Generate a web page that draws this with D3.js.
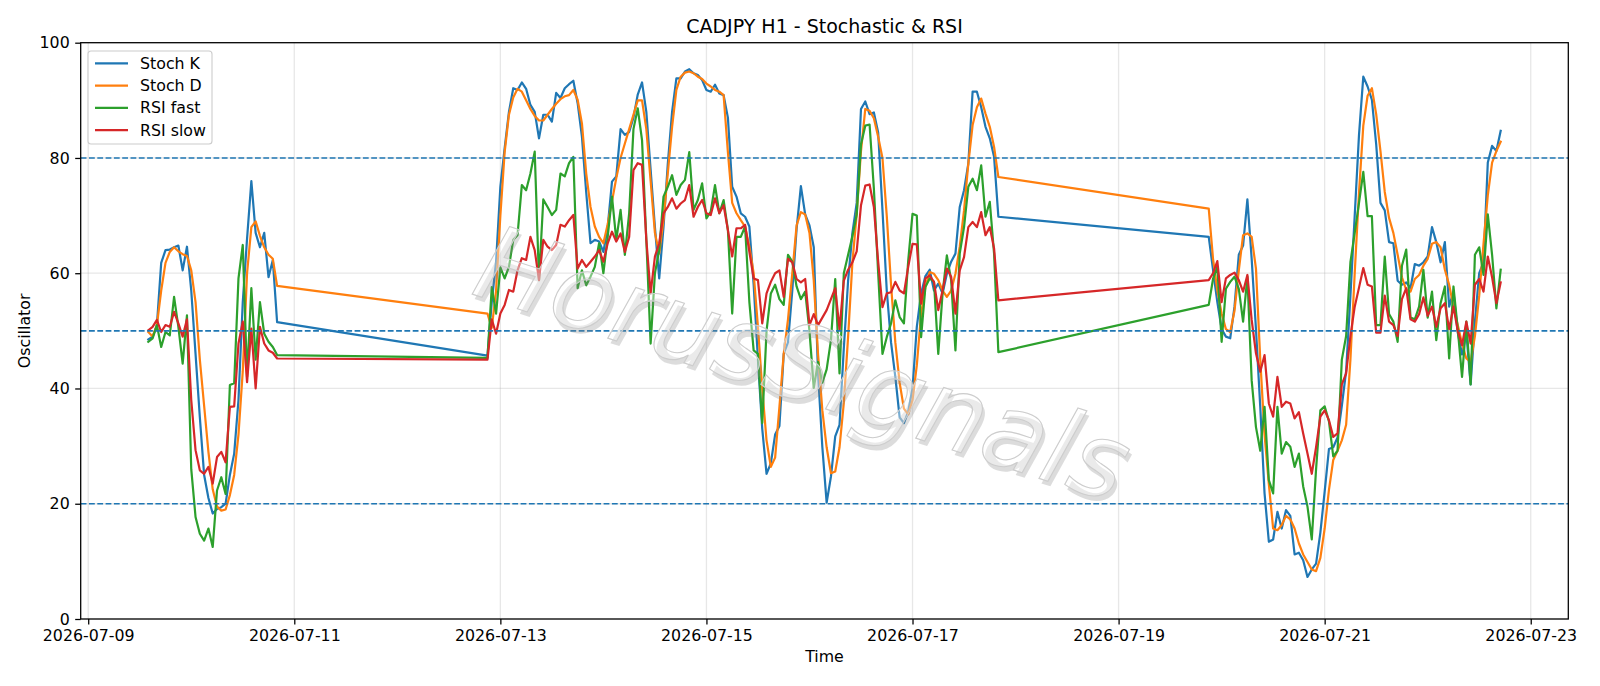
<!DOCTYPE html>
<html lang="en">
<head>
  <meta charset="UTF-8">
  <title>CADJPY H1 - Stochastic & RSI</title>
  <script src="https://d3js.org/d3.v7.min.js"></script>
  <style>
    html, body {
      margin: 0;
      padding: 0;
      background: #fff;
    }
    svg {
      display: block;
      font-family: "DejaVu Sans", sans-serif;
    }
    .tick text {
      font-size: 15.8px;
      fill: #000;
    }
  </style>
</head>
<body>
  <div id="chart"></div>
  <script>
    // hourly bars: three trading sessions, weekends skipped
    const sessionStarts = ["2026-07-09T14:00:00Z", "2026-07-12T21:00:00Z", "2026-07-19T21:00:00Z"];
    const sessionBars = [31, 120, 69];

    const stochK = [
      48.5, 49, 51, 61.8, 64, 64.1, 64.5, 64.8, 60.5, 64.6,
      57, 46, 35, 25, 21, 18.3, 19.1, 19.4, 20, 25,
      28.7, 38, 55, 66, 76, 67, 64.5, 67, 59.3, 62.3,
      51.5,
      45.7, 55, 62, 75, 81.7, 88, 92.1, 91.8, 93.1, 92,
      89.2, 88, 83.4, 87.5, 87.5, 86.3, 91.3, 90.4, 92.1, 92.8,
      93.4, 89.5, 83.7, 74, 65.2, 65.8, 65.5, 63.7, 68, 75.9,
      76.8, 85, 84, 84.5, 87, 91, 93.1, 88, 78, 68,
      59.1, 68, 79, 88, 93.8, 93.8, 95, 95.4, 94.7, 94.4,
      93.5, 91.8, 91.5, 92.7, 91.2, 90.9, 87, 75, 73.3, 70.4,
      69.8, 68.1, 58, 45, 33, 25.2, 27, 32, 33.5, 46,
      48, 57, 67.7, 75.1, 70.2, 68.3, 64.5, 42.6, 29.8, 20.2,
      24.7, 31.7, 33.7, 47, 58.7, 67, 72.2, 88.5, 89.8, 87.6,
      87.9, 84.4, 71, 57, 48, 42, 35, 34, 36, 40,
      50.7, 56.5, 59.5, 60.6, 57, 58.2, 56.5, 59.9, 62, 63.4,
      71.5, 74.4, 79, 91.5, 91.5, 88.8, 85.4, 83.4, 80.2, 69.8,
      66.3, 60.6, 55, 50.3, 49, 48.7, 54.2, 63.2, 64.8, 72.8,
      62.5, 50.3, 36.8, 21.8, 13.4, 13.8, 18.6, 15.7, 18.9, 17.9,
      11.2, 11.5, 10.2, 7.3, 8.6, 9.6, 15, 22.1, 29.5, 29.8,
      31.5, 37, 43, 56, 70, 84, 94.1, 92.4, 90.1, 82.4,
      72.2, 70.9, 65.4, 65.2, 58.7, 58, 58.4, 57.4, 61.6, 61.3,
      61.9, 62.9, 68, 65.4, 61.9, 65.4, 54.2, 56.8, 49.7, 45.9,
      49.7, 40.7, 51.6, 60, 61.9, 79.2, 82.1, 81.2, 84.7
    ];

    const stochD = [
      49.8, 49, 51, 57, 61.8, 63.7, 64.5, 63.8, 63.3, 63,
      60.5, 55, 45, 37, 29, 22.5, 19.5, 18.8, 19, 21.5,
      25, 32, 43, 60, 68, 69, 66.5, 64.5, 63.2, 62.5,
      57.8,
      53, 50.5, 57, 70, 81, 87.5, 90.5, 92, 91.5, 90,
      88.5, 87.3, 86.5, 86.5, 87.5, 88.5, 89.4, 90.2, 90.7, 90.9,
      91.8, 90.1, 86, 77.3, 71.5, 68.1, 66.3, 65.2, 68.5, 72.5,
      76.5, 80, 82.5, 85, 87.5, 90, 90, 85, 76, 67,
      63.4, 69.2, 77.3, 85.4, 91.8, 94.1, 94.8, 95, 94.7, 94.1,
      93.7, 92.9, 92.4, 91.8, 91.5, 90.9, 81, 72.2, 70.4, 69.2,
      68.1, 64.6, 60, 50.7, 40, 31, 26.4, 28, 36.8, 46,
      52, 60, 68.3, 70.6, 70.2, 67, 58.7, 45.9, 36.2, 29.8,
      25.3, 25.6, 29.8, 37.5, 49, 61.9, 70.2, 81.2, 88.5, 88.2,
      86.9, 83.7, 80, 70, 58, 48, 41, 36.5, 35.5, 38,
      44, 53, 57.6, 60.2, 59.9, 58.8, 57, 55.9, 57, 59.9,
      64.6, 70.9, 79, 85.7, 88.8, 90.3, 87.7, 85.4, 81.9, 76.7,
      71.2, 62.5, 57, 53, 50.3, 49.8, 53.5, 60.5, 66.6, 66.9,
      66.3, 60.8, 45, 32, 23.4, 15.7, 15.4, 16.3, 17.9, 17.3,
      15.7, 13.1, 11.2, 9.9, 8.6, 8.3, 10.6, 15.7, 22.4, 27.6,
      29.2, 31, 33.7, 45, 60, 74, 85.6, 90.8, 92.1, 87.6,
      81.2, 74.1, 69.6, 67, 63.2, 59.3, 57.1, 56.8, 59, 59.7,
      61.3, 62.5, 65.1, 65.4, 64.5, 60.6, 58, 54.2, 51, 47.8,
      45.2, 44.6, 49.1, 56.1, 65.1, 73.5, 79.2, 81.2, 82.8
    ];

    const rsiFast = [
      48.1, 48.7, 51, 47.2, 49.8, 49.2, 55.9, 50.7, 44.3, 52.7,
      26, 17.7, 14.8, 13.6, 15.7, 12.5, 22.3, 24.6, 21.7, 40.6,
      40.9, 59.1, 64.9, 42, 57.4, 45, 55, 49.5, 48.1, 47.2,
      45.8,
      45.3, 57.6, 53, 61, 59.1, 61.1, 65.8, 66.6, 75.3, 74.4,
      77.3, 81.1, 58.8, 72.8, 71.5, 70.1, 71, 77.3, 76.8, 79.1,
      80.2, 57.4, 60.5, 57.9, 59.4, 61.1, 65.2, 60, 66.3, 73.3,
      65.8, 71, 63.2, 70.4, 85, 88.6, 83.1, 65.8, 47.8, 60,
      64, 73.3, 75, 77, 73.6, 75.3, 76.2, 81, 71, 72.7,
      75.6, 69.5, 70.7, 75.3, 70.4, 72.7, 67.5, 53, 66.3, 66.3,
      68.1, 55, 46.6, 46, 34, 50, 56.5, 58, 55.5, 54.5,
      63.2, 62, 57.7, 55.5, 56.8, 50, 40.1, 44.6, 41, 43.3,
      48.4, 59, 42.6, 60, 63.2, 66.4, 70.2, 82.4, 85.6, 85.8,
      74.7, 60, 46, 48.9, 51.3, 55.3, 52.4, 51.3, 62.2, 70.3,
      70, 48.9, 57.6, 59.1, 58.5, 46, 56.5, 63.1, 58.8, 46.6,
      63.4, 68, 75, 76.4, 74.4, 78.7, 69.8, 72.4, 63.4, 46.3,
      54.5, 59, 61.1, 48.1, 57.3, 58.5, 59.4, 57.3, 51.6, 59.4,
      41.4, 33.3, 29.2, 36.8, 24.1, 21.8, 36.8, 28.7, 30.7, 29.9,
      26.4, 28.7, 23, 19.5, 13.8, 26, 36.2, 36.9, 34.3, 28.2,
      29.2, 45, 49.1, 61.9, 67, 72.2, 77.6, 69.9, 69.9, 51,
      51, 62.9, 52.9, 51.6, 48.1, 61.3, 64.1, 52.3, 52, 54.2,
      60.6, 52.3, 56.8, 48.4, 54.8, 57.7, 45.2, 57.7, 50.3, 42,
      51.6, 40.7, 63.2, 64.5, 59.7, 70.2, 63.2, 53.9, 60.6
    ];

    const rsiSlow = [
      50.1, 50.7, 51.9, 49.8, 51, 50.7, 53.3, 51.3, 49, 52,
      38, 29.3, 25.8, 25.2, 26.4, 23.5, 28.1, 29, 27.2, 36.8,
      36.9, 47.8, 51.6, 41.1, 50.4, 40, 50.7, 47.8, 46.6, 46.2,
      45.2,
      45, 52, 49.5, 53, 54.5, 57.1, 56.8, 60.5, 62.6, 62.3,
      66.3, 64, 58.8, 65.8, 64.6, 64, 64.9, 68.4, 68.1, 69.2,
      70.1, 60.8, 62.3, 61.1, 62, 62.9, 64, 62, 65.2, 67.2,
      65.5, 66.9, 63.7, 66.3, 77.9, 79.1, 78.8, 65.8, 56.5, 62.9,
      65.2, 70.4, 71.5, 73, 71.2, 72.1, 72.7, 75.3, 69.8, 71.5,
      72.7, 70.4, 70.1, 73, 70.4, 71.8, 67.5, 62.9, 67.8, 67.8,
      68.4, 63.7, 59.1, 58.8, 51.3, 56.5, 58.5, 60, 60.5, 55.9,
      62.5, 61.9, 59, 58.4, 59, 51, 52.9, 51, 52.3, 53.6,
      55.5, 57.4, 50.3, 58.7, 60.6, 61.9, 63.8, 71.8, 75.2, 75.4,
      71.5, 62, 54.1, 56.5, 56.7, 58.5, 57, 56.5, 61.1, 65.1,
      65, 54.7, 59.1, 59.6, 58.5, 53.6, 57, 60.8, 59.4, 53,
      60.5, 62.8, 68, 68.9, 68, 70.6, 66.6, 68, 64.3, 55.3,
      58.8, 60, 62.1, 55, 59.1, 59.7, 60.1, 58.8, 56.8, 59.7,
      51.9, 46.1, 42.9, 45.8, 37.4, 35.1, 42, 36.8, 37.7, 37.4,
      34.8, 35.9, 32.2, 28.7, 25.2, 29.8, 35.1, 36.2, 34.5, 31.6,
      32.2, 40.7, 42.6, 49.1, 54.2, 57.5, 60.9, 58, 57.7, 49.7,
      49.7, 56.1, 51.6, 51, 49.1, 55.5, 57.4, 52, 51.6, 52.9,
      55.8, 52.6, 54.2, 50.7, 53.9, 54.8, 50.3, 54.2, 50, 47.5,
      51.6, 47.8, 58, 59, 56.8, 62.9, 59.3, 54.8, 58.4
    ];

    const seriesNames = ["Stoch K", "Stoch D", "RSI fast", "RSI slow"];
    const seriesColors = ["#1f77b4", "#ff7f0e", "#2ca02c", "#d62728"];
    const levels = [80, 50, 20];
    const yTicks = [0, 20, 40, 60, 80, 100];
    const xTickDates = ["2026-07-09", "2026-07-11", "2026-07-13", "2026-07-15",
                        "2026-07-17", "2026-07-19", "2026-07-21", "2026-07-23"];
    const watermark = "HorusSignals";

    const width = 1600;
    const height = 686;
    const margin = {top: 42.7, right: 31.7, bottom: 67, left: 80.7};
    const plotW = width - margin.left - margin.right;
    const plotH = height - margin.top - margin.bottom;

    // build the hourly time stamps
    const HOUR = 3600 * 1000;
    const times = sessionStarts.flatMap((s, k) =>
      d3.range(sessionBars[k]).map(i => new Date(Date.parse(s) + i * HOUR)));

    const allSeries = [stochK, stochD, rsiFast, rsiSlow];

    const svg = d3.select("#chart").append("svg")
      .attr("width", width).attr("height", height);

    const g = svg.append("g")
      .attr("transform", `translate(${margin.left},${margin.top})`);

    // matplotlib style 5% margins on x
    const t0 = times[0], t1 = times[times.length - 1];
    const pad = (t1 - t0) * 0.05;
    const x = d3.scaleUtc()
      .domain([new Date(+t0 - pad), new Date(+t1 + pad)])
      .range([0, plotW]);
    const y = d3.scaleLinear().domain([0, 100]).range([plotH, 0]);

    const xTicks = xTickDates.map(d => new Date(d + "T00:00:00Z"));

    // grid
    const grid = g.append("g").attr("class", "grid");
    grid.selectAll(".gx").data(xTicks).enter().append("line")
      .attr("x1", d => x(d)).attr("x2", d => x(d))
      .attr("y1", 0).attr("y2", plotH)
      .attr("stroke", "#b0b0b0").attr("stroke-opacity", 0.3).attr("stroke-width", 1.27);
    grid.selectAll(".gy").data(yTicks).enter().append("line")
      .attr("x1", 0).attr("x2", plotW)
      .attr("y1", d => y(d)).attr("y2", d => y(d))
      .attr("stroke", "#b0b0b0").attr("stroke-opacity", 0.3).attr("stroke-width", 1.27);

    // lines
    const line = d3.line()
      .x((d, i) => x(times[i]))
      .y(d => y(d));

    g.selectAll(".series").data(allSeries).enter().append("path")
      .attr("class", "series")
      .attr("d", line)
      .attr("fill", "none")
      .attr("stroke", (d, i) => seriesColors[i])
      .attr("stroke-width", 2.2)
      .attr("stroke-linejoin", "round")
      .attr("stroke-linecap", "square");

    // reference levels
    g.selectAll(".level").data(levels).enter().append("line")
      .attr("x1", 0).attr("x2", plotW)
      .attr("y1", d => y(d)).attr("y2", d => y(d))
      .attr("stroke", "#1f77b4")
      .attr("stroke-width", 1.6)
      .attr("stroke-dasharray", "5.8 2.5");

    // watermark, faint with a soft shadow
    const wm = g.append("g")
      .attr("transform", `translate(${792 - margin.left},${398 - margin.top}) rotate(18)`)
      .style("font-size", "104px")
      .style("font-style", "italic")
      .attr("text-anchor", "middle");
    wm.append("text").attr("x", 4).attr("y", 4).text(watermark)
      .attr("fill", "#8c8c8c").attr("fill-opacity", 0.3);
    wm.append("text").text(watermark)
      .attr("fill", "#ffffff").attr("fill-opacity", 0.4)
      .attr("stroke", "#cdcdcd").attr("stroke-width", 1.1);

    // axes
    const xAxis = d3.axisBottom(x).tickValues(xTicks)
      .tickFormat(d3.utcFormat("%Y-%m-%d"))
      .tickSize(5.5).tickPadding(5.5).tickSizeOuter(0);
    const yAxis = d3.axisLeft(y).tickValues(yTicks)
      .tickSize(5.5).tickPadding(5.5).tickSizeOuter(0);

    const gx = g.append("g").attr("transform", `translate(0,${plotH})`).call(xAxis);
    const gy = g.append("g").call(yAxis);
    [gx, gy].forEach(a => {
      a.select(".domain").remove();
      a.selectAll(".tick line").attr("stroke", "#000").attr("stroke-width", 1.27);
      a.selectAll(".tick text").style("font-family", "DejaVu Sans");
    });

    // spines
    g.append("rect")
      .attr("x", 0).attr("y", 0).attr("width", plotW).attr("height", plotH)
      .attr("fill", "none").attr("stroke", "#000").attr("stroke-width", 1.27);

    // title and labels
    svg.append("text")
      .attr("x", margin.left + plotW / 2).attr("y", 33)
      .attr("text-anchor", "middle").style("font-size", "19px")
      .text("CADJPY H1 - Stochastic & RSI");
    svg.append("text")
      .attr("x", margin.left + plotW / 2).attr("y", 661.5)
      .attr("text-anchor", "middle").style("font-size", "15.8px")
      .text("Time");
    svg.append("text")
      .attr("transform", `translate(30,${margin.top + plotH / 2}) rotate(-90)`)
      .attr("text-anchor", "middle").style("font-size", "15.8px")
      .text("Oscillator");

    // legend
    const legend = svg.append("g").attr("transform", "translate(88,51)");
    legend.append("rect")
      .attr("width", 124).attr("height", 93).attr("rx", 3)
      .attr("fill", "#fff").attr("fill-opacity", 0.8)
      .attr("stroke", "#cccccc").attr("stroke-width", 1.1);
    const items = legend.selectAll(".item").data(seriesNames).enter().append("g")
      .attr("transform", (d, i) => `translate(0,${12.3 + i * 22.3})`);
    items.append("line")
      .attr("x1", 7).attr("x2", 40)
      .attr("stroke", (d, i) => seriesColors[i]).attr("stroke-width", 2.2);
    items.append("text")
      .attr("x", 52).attr("dy", "0.35em")
      .style("font-size", "15.8px")
      .text(d => d);
  </script>
</body>
</html>
